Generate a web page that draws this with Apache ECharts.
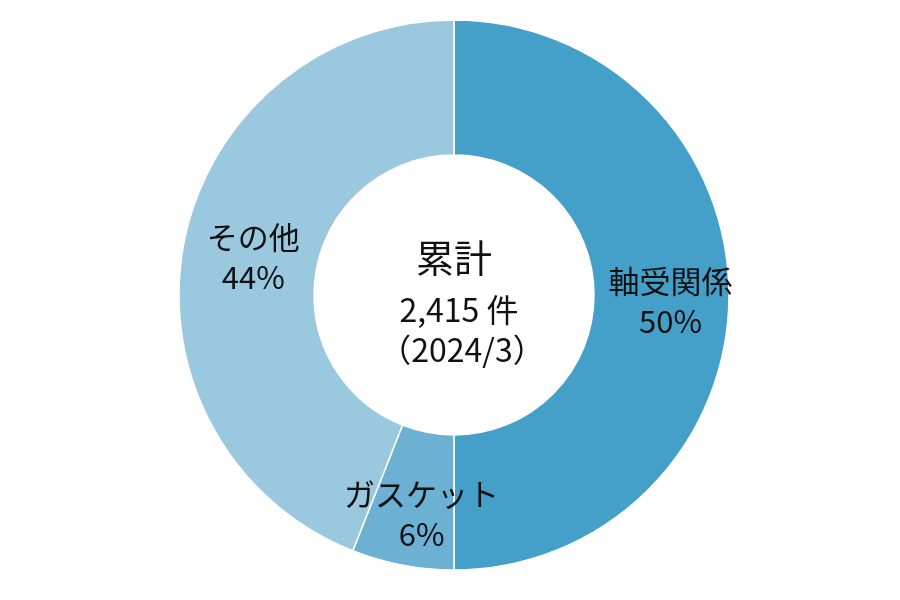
<!DOCTYPE html>
<html><head><meta charset="utf-8">
<script src="https://cdn.jsdelivr.net/npm/echarts@6/dist/echarts.min.js"></script>
<style>html,body{margin:0;padding:0;background:#fff}#c{width:900px;height:600px}</style>
</head><body><div id="c"></div>
<script>
const categories = ['軸受関係', 'ガスケット', 'その他'];
const values = [50, 6, 44];
const colors = ['#45a0c9', '#6cb0d3', '#9ac8de'];
const centerLines = ['累計', '2,415 件', '（2024/3）'];

const FONT = '"Noto Sans CJK JP", "Noto Sans", sans-serif';
const labelOffsets = [[6, 6], [7, 12], [6, 2]];
const chart = echarts.init(document.getElementById('c'), null, {renderer: 'canvas'});
chart.setOption({
  animation: false,
  backgroundColor: '#ffffff',
  series: [{
    type: 'pie',
    center: [454, 295],
    radius: [140, 275],
    startAngle: 90,
    clockwise: true,
    data: categories.map((c, i) => ({name: c, value: values[i], itemStyle: {color: colors[i]}, label: {offset: labelOffsets[i]}})),
    itemStyle: {borderColor: '#ffffff', borderWidth: 1.5},
    label: {
      show: true,
      position: 'inside',
      formatter: p => p.name + '\n' + p.value + '%',
      color: '#111',
      fontFamily: FONT,
      fontSize: 31,
      lineHeight: 40,
      align: 'center'
    },
    labelLine: {show: false},
    emphasis: {disabled: true}
  }],
  graphic: [
    {type: 'text', x: 454, y: 258, style: {text: centerLines[0], fontFamily: FONT, fontSize: 38, fill: '#111', align: 'center', verticalAlign: 'middle'}},
    {type: 'text', x: 459, y: 310, style: {text: centerLines[1], fontFamily: FONT, fontSize: 32, fill: '#111', align: 'center', verticalAlign: 'middle'}},
    {type: 'text', x: 462, y: 350, style: {text: centerLines[2], fontFamily: FONT, fontSize: 32, fill: '#111', align: 'center', verticalAlign: 'middle'}}
  ]
});
</script></body></html>
